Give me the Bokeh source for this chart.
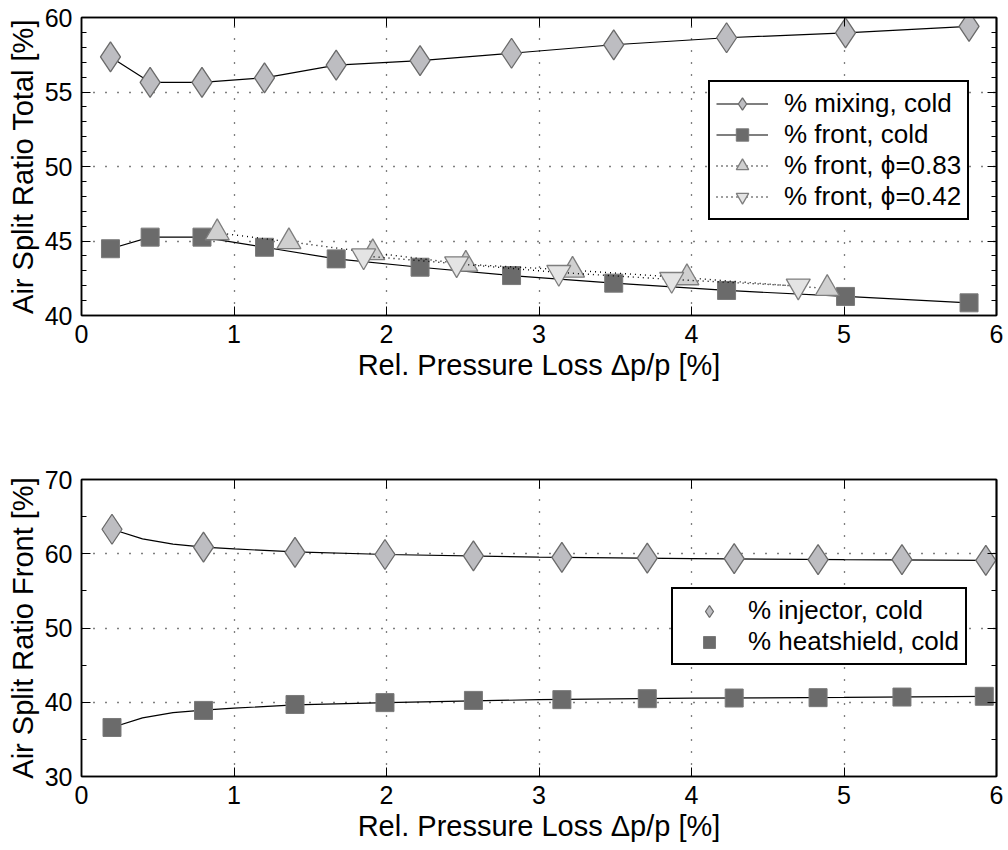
from bokeh.plotting import figure
from bokeh.models import (LinearAxis, FixedTicker, Legend, LegendItem, Range1d)
from bokeh.layouts import column
from bokeh.embed import file_html
from bokeh.resources import INLINE

FONT = "Liberation Sans"

# ---------------- data: top panel ----------------
mix_x = [0.19, 0.45, 0.79, 1.20, 1.67, 2.22, 2.82, 3.49, 4.23, 5.01, 5.82]
mix_y = [57.35, 55.65, 55.65, 55.95, 56.8, 57.1, 57.6, 58.17, 58.64, 58.97, 59.4]
front_x = [0.19, 0.45, 0.79, 1.20, 1.67, 2.22, 2.82, 3.49, 4.23, 5.01, 5.82]
front_y = [44.48, 45.26, 45.26, 44.58, 43.8, 43.24, 42.68, 42.17, 41.68, 41.28, 40.85]
phi83_x = [0.89, 1.36, 1.91, 2.52, 3.22, 3.97, 4.89]
phi83_y = [45.55, 44.95, 44.21, 43.44, 43.04, 42.53, 41.81]
phi42_x = [1.85, 2.46, 3.13, 3.87, 4.70]
phi42_y = [44.0, 43.47, 42.89, 42.42, 41.98]

top_labels = ["% mixing, cold", "% front, cold", "% front, \u03d5=0.83", "% front, \u03d5=0.42"]

# ---------------- data: bottom panel ----------------
inj_x = [0.20, 0.80, 1.40, 1.99, 2.57, 3.15, 3.71, 4.28, 4.83, 5.38, 5.93]
inj_y = [63.3, 60.9, 60.2, 59.9, 59.7, 59.5, 59.4, 59.33, 59.2, 59.2, 59.1]
hs_x = [0.20, 0.80, 1.40, 1.99, 2.57, 3.15, 3.71, 4.28, 4.83, 5.38, 5.92]
hs_y = [36.6, 38.9, 39.7, 39.95, 40.25, 40.35, 40.48, 40.57, 40.62, 40.7, 40.8]
# fitted curves
fit_x = [0.2, 0.4, 0.6, 0.8, 1.0, 1.4, 2.0, 3.0, 4.0, 5.0, 5.93]
inj_fit_y = [63.3, 62.0, 61.3, 60.9, 60.65, 60.25, 59.9, 59.55, 59.35, 59.2, 59.1]
hs_fit_y = [36.6, 37.9, 38.6, 38.95, 39.2, 39.65, 39.95, 40.35, 40.55, 40.65, 40.8]

bottom_labels = ["% injector, cold", "% heatshield, cold"]

# ---------------- ticks ----------------
x_ticks = [0, 1, 2, 3, 4, 5, 6]
top_y_ticks = [40, 45, 50, 55, 60]
top_y_minor = [41, 42, 43, 44, 46, 47, 48, 49, 51, 52, 53, 54, 56, 57, 58, 59]
bot_y_ticks = [30, 40, 50, 60, 70]
bot_y_minor = [35, 45, 55, 65]

x_label = "Rel. Pressure Loss \u0394p/p [%]"

DIA_FILL, DIA_LINE = "#bdbdc1", "#6a6a6a"
SQ_FILL, SQ_LINE = "#6b6b6b", "#7a7a7a"
UP_FILL, UP_LINE = "#d0d0d0", "#7e7e7e"
DN_FILL, DN_LINE = "#e4e4e4", "#7e7e7e"


def base_axis(ax):
    ax.major_tick_in = 9
    ax.major_tick_out = 0
    ax.minor_tick_in = 5
    ax.minor_tick_out = 0
    ax.axis_line_color = "black"
    ax.axis_line_width = 1.5
    ax.major_tick_line_color = "black"
    ax.minor_tick_line_color = "black"
    ax.major_tick_line_width = 1
    ax.minor_tick_line_width = 1


def labelled_axis(ax, major, minor):
    base_axis(ax)
    ax.ticker = FixedTicker(ticks=major, minor_ticks=minor)
    ax.major_label_text_font = FONT
    ax.major_label_text_font_size = "25px"
    ax.major_label_text_color = "black"
    ax.major_label_standoff = 9
    ax.axis_label_text_font = FONT
    ax.axis_label_text_font_size = "29px"
    ax.axis_label_text_font_style = "normal"
    ax.axis_label_text_color = "black"
    ax.axis_label_standoff = 3


def tick_only_axis(positions, length):
    # an axis that draws only inward ticks (no labels)
    ax = LinearAxis(ticker=FixedTicker(ticks=[], minor_ticks=positions))
    base_axis(ax)
    ax.minor_tick_in = length
    ax.major_label_standoff = 0
    ax.axis_label_standoff = 0
    return ax


def make_fig(height, y0, y1, yticks, yminor, min_top, min_bottom, ylabel):
    p = figure(width=1008, height=height, x_range=Range1d(0, 6), y_range=Range1d(y0, y1),
               output_backend="svg", toolbar_location=None,
               min_border_left=81, min_border_right=12,
               min_border_top=min_top, min_border_bottom=min_bottom,
               x_axis_label=x_label, y_axis_label=ylabel)
    labelled_axis(p.xaxis[0], x_ticks, [])
    labelled_axis(p.yaxis[0], yticks, yminor)
    p.add_layout(tick_only_axis(x_ticks, 9), "above")
    p.add_layout(tick_only_axis(yticks, 9), "right")
    p.add_layout(tick_only_axis(yminor, 5), "right")
    for g in (p.xgrid[0], p.ygrid[0]):
        g.grid_line_color = "black"
        g.grid_line_dash = "1 11"
        g.grid_line_width = 1.3
        g.grid_line_alpha = 1.0
    p.xgrid[0].ticker = FixedTicker(ticks=x_ticks)
    p.ygrid[0].ticker = FixedTicker(ticks=yticks)
    p.outline_line_color = "black"
    p.outline_line_width = 1.5
    p.outline_line_alpha = 1.0
    p.background_fill_color = "white"
    p.border_fill_color = "white"
    return p


# ---------------- top figure ----------------
p1 = make_fig(400, 40, 60, top_y_ticks, top_y_minor, 17, 85, "Air Split Ratio Total [%]")

l_mix = p1.line(mix_x, mix_y, line_color="black", line_width=1.2)
s_mix = p1.scatter(mix_x, mix_y, marker="diamond", size=30, fill_color=DIA_FILL,
                   line_color=DIA_LINE, line_width=1.3)
l_fr = p1.line(front_x, front_y, line_color="black", line_width=1.2)
s_fr = p1.scatter(front_x, front_y, marker="square", size=18, fill_color=SQ_FILL,
                  line_color=SQ_LINE, line_width=1)
l_83 = p1.line(phi83_x, phi83_y, line_color="black", line_width=1.4, line_dash="1 4")
s_83 = p1.scatter(phi83_x, phi83_y, marker="triangle", size=24, fill_color=UP_FILL,
                  line_color=UP_LINE, line_width=1.3)
l_42 = p1.line(phi42_x, phi42_y, line_color="black", line_width=1.4, line_dash="1 4")
s_42 = p1.scatter(phi42_x, phi42_y, marker="inverted_triangle", size=24, fill_color=DN_FILL,
                  line_color=DN_LINE, line_width=1.3)

leg1 = Legend(items=[LegendItem(label=top_labels[0], renderers=[l_mix, s_mix]),
                     LegendItem(label=top_labels[1], renderers=[l_fr, s_fr]),
                     LegendItem(label=top_labels[2], renderers=[l_83, s_83]),
                     LegendItem(label=top_labels[3], renderers=[l_42, s_42])],
              location=(627, 95), margin=0, padding=6, spacing=0,
              glyph_width=52, glyph_height=31, label_height=31, label_standoff=16,
              label_text_font=FONT, label_text_font_size="26px", label_text_color="black",
              border_line_color="black", border_line_width=2, border_line_alpha=1.0,
              background_fill_color="white", background_fill_alpha=1.0)
p1.add_layout(leg1)

# ---------------- bottom figure ----------------
p2 = make_fig(450, 30, 70, bot_y_ticks, bot_y_minor, 79, 74, "Air Split Ratio Front [%]")

p2.line(fit_x, inj_fit_y, line_color="black", line_width=1.2)
p2.line(fit_x, hs_fit_y, line_color="black", line_width=1.2)
s_inj = p2.scatter(inj_x, inj_y, marker="diamond", size=30, fill_color=DIA_FILL,
                   line_color=DIA_LINE, line_width=1.3)
s_hs = p2.scatter(hs_x, hs_y, marker="square", size=18, fill_color=SQ_FILL,
                  line_color=SQ_LINE, line_width=1)

leg2 = Legend(items=[LegendItem(label=bottom_labels[0], renderers=[s_inj]),
                     LegendItem(label=bottom_labels[1], renderers=[s_hs])],
              location=(590, 111), margin=0, padding=6, spacing=0,
              glyph_width=60, glyph_height=30, label_height=30, label_standoff=9,
              label_text_font=FONT, label_text_font_size="26px", label_text_color="black",
              border_line_color="black", border_line_width=2, border_line_alpha=1.0,
              background_fill_color="white", background_fill_alpha=1.0)
p2.add_layout(leg2)

layout = column(p1, p2, spacing=0)

with open("out.html", "w") as f:
    f.write(file_html(layout, INLINE))
